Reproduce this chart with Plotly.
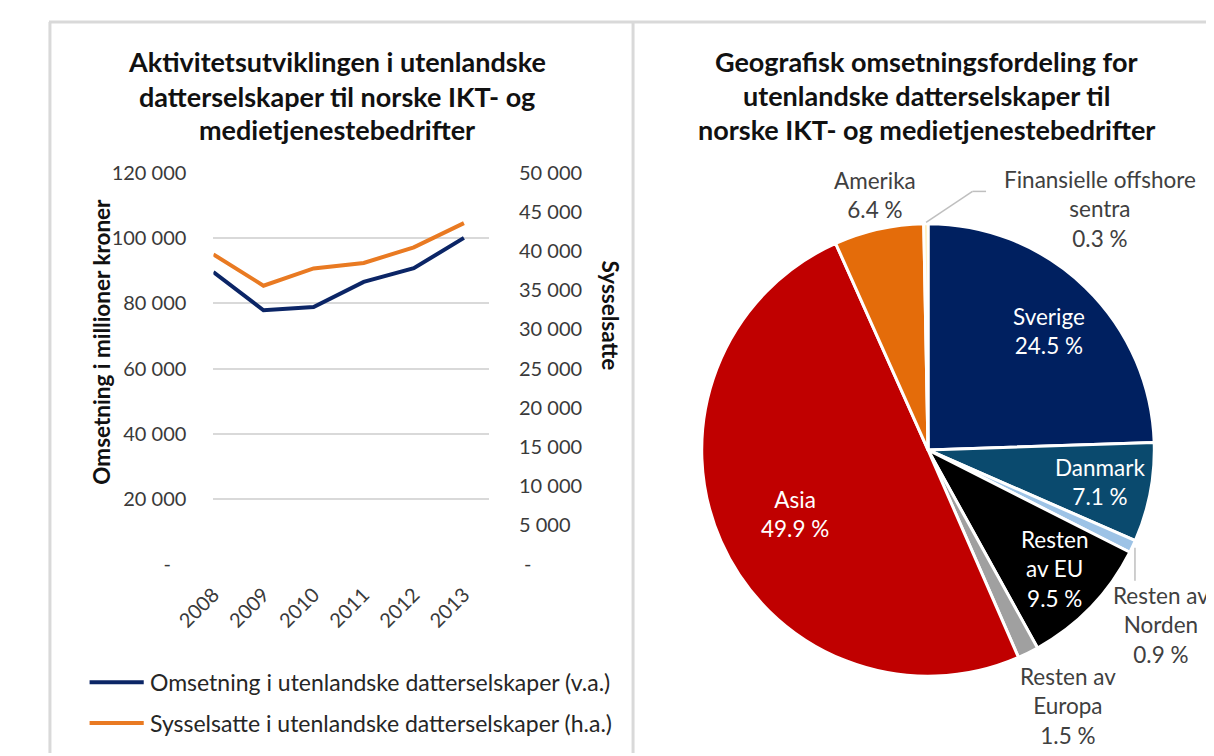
import plotly.graph_objects as go

W, H = 1214, 756
OFF = 8  # body margin of the html page

# ---------------- data ----------------
years = ["2008", "2009", "2010", "2011", "2012", "2013"]
omsetning = [89600, 77900, 78900, 86600, 90800, 100100]      # mill. kr (left axis)
sysselsatte = [39600, 35600, 37800, 38500, 40500, 43600]     # persons (right axis)

left_tickvals = [0, 20000, 40000, 60000, 80000, 100000, 120000]
left_ticktext = ["-\u00a0\u00a0\u00a0", "20 000", "40 000", "60 000", "80 000", "100 000", "120 000"]
right_tickvals = [0, 5000, 10000, 15000, 20000, 25000, 30000, 35000, 40000, 45000, 50000]
right_ticktext = ["\u00a0-", "5 000", "10 000", "15 000", "20 000", "25 000", "30 000",
                  "35 000", "40 000", "45 000", "50 000"]

regions = ["Sverige", "Danmark", "Resten av Norden", "Resten av EU", "Resten av Europa",
           "Asia", "Amerika", "Finansielle offshore sentra"]
label_text = ["Sverige", "Danmark", "Resten av<br>Norden", "Resten<br>av EU", "Resten av<br>Europa",
              "Asia", "Amerika", "Finansielle offshore<br>sentra"]
shares = [24.5, 7.1, 0.9, 9.5, 1.5, 49.9, 6.4, 0.3]

series_names = ["Omsetning i utenlandske datterselskaper (v.a.)",
                "Sysselsatte i utenlandske datterselskaper (h.a.)"]

# ---------------- styles ----------------
FONT = "Lato"
NAVY = "#0B2566"
ORANGE = "#E97A22"
slice_colors = ["#002060", "#0A4A6E", "#9DC3E6", "#000000", "#A0A0A0",
                "#C00000", "#E46C0A", "#FFE699"]
label_color = ["white", "white", "#404040", "white", "#404040", "white", "#404040", "#404040"]
label_pos = [(1043, 328), (1096, 484), (1159, 632), (1049, 574), (1063, 715),
             (780, 517), (863, 188), (1096, 202)]
PIE_CX, PIE_CY, PIE_R = 918, 451, 234


def px(x):
    return (x - OFF) / W


def py(y):
    return 1 - (y - OFF) / H


fig = go.Figure()

fig.add_trace(go.Scatter(x=years, y=omsetning, mode="lines", name=series_names[0],
                         line=dict(color=NAVY, width=4), xaxis="x", yaxis="y",
                         showlegend=False))
fig.add_trace(go.Scatter(x=years, y=sysselsatte, mode="lines", name=series_names[1],
                         line=dict(color=ORANGE, width=4), xaxis="x", yaxis="y2",
                         showlegend=False))

fig.add_trace(go.Pie(labels=regions, values=shares, sort=False, direction="clockwise",
                     rotation=0, textinfo="none", hoverinfo="label+percent",
                     marker=dict(colors=slice_colors, line=dict(color="white", width=3)),
                     domain=dict(x=[px(PIE_CX - PIE_R), px(PIE_CX + PIE_R)],
                                 y=[py(PIE_CY + PIE_R), py(PIE_CY - PIE_R)]),
                     showlegend=False))

tick_font = dict(family=FONT, size=20, color="#3A3A3A")

fig.update_layout(
    width=W, height=H,
    margin=dict(l=0, r=0, t=0, b=0),
    paper_bgcolor="white", plot_bgcolor="white",
    font=dict(family=FONT, color="#404040"),
    xaxis=dict(domain=[px(179), px(464)], type="category", range=[0, 5.5],
               tickangle=-45, tickfont=tick_font, showgrid=False, zeroline=False,
               showline=False, ticks="", ticklabelstandoff=14),
    yaxis=dict(domain=[py(569), py(165)], range=[0, 120000], tickvals=left_tickvals,
               ticktext=left_ticktext, tickfont=tick_font, showgrid=True,
               gridcolor="#D9D9D9", gridwidth=1.5, zeroline=False, showline=False,
               ticks="", ticklabelstandoff=26),
    yaxis2=dict(overlaying="y", side="right", anchor="x", range=[0, 50000],
                tickvals=right_tickvals, ticktext=right_ticktext, tickfont=tick_font,
                showgrid=False, zeroline=False, showline=False, ticks="",
                ticklabelstandoff=29),
)

annotations = []
shapes = []

left_title = ["Aktivitetsutviklingen i utenlandske", "datterselskaper til norske IKT- og",
              "medietjenestebedrifter"]
right_title = ["Geografisk omsetningsfordeling for", "utenlandske datterselskaper til",
               "norske IKT- og medietjenestebedrifter"]
title_font = dict(family=FONT, size=27, color="#111111")
for t, y in zip(left_title, [50, 86, 120]):
    annotations.append(dict(text="<b>%s</b>" % t, x=px(307), y=py(y), xref="paper", yref="paper",
                            showarrow=False, font=title_font, xanchor="center", yanchor="middle"))
for t, y in zip(right_title, [50, 85, 120]):
    annotations.append(dict(text="<b>%s</b>" % t, x=px(916), y=py(y), xref="paper", yref="paper",
                            showarrow=False, font=title_font, xanchor="center", yanchor="middle"))

axis_title_font = dict(family=FONT, size=22.5, color="#111111")
annotations.append(dict(text="<b>Omsetning i millioner kroner</b>", x=px(47), y=py(339),
                        xref="paper", yref="paper", showarrow=False, textangle=-90,
                        font=axis_title_font))
annotations.append(dict(text="<b>Sysselsatte</b>", x=px(590), y=py(312),
                        xref="paper", yref="paper", showarrow=False, textangle=90,
                        font=axis_title_font))

for name, col, y in zip(series_names, [NAVY, ORANGE], [691, 733]):
    shapes.append(dict(type="line", xref="paper", yref="paper", x0=px(51), x1=px(107),
                       y0=py(y), y1=py(y), line=dict(color=col, width=4)))
    annotations.append(dict(text=name, x=px(111), y=py(y), xref="paper", yref="paper",
                            showarrow=False, xanchor="left", yanchor="middle",
                            font=dict(family=FONT, size=23, color="#262626")))

for lab, s, col, (lx, ly) in zip(label_text, shares, label_color, label_pos):
    annotations.append(dict(text="%s<br>%.1f %%" % (lab, s), x=px(lx), y=py(ly),
                            xref="paper", yref="paper", showarrow=False,
                            xanchor="center", yanchor="middle", align="center",
                            font=dict(family=FONT, size=22.5, color=col)))

leader_lines = [[(916, 216), (964, 184), (978, 184)],
                [(1132, 552), (1132, 586)]]
for pts in leader_lines:
    for (x0, y0), (x1, y1) in zip(pts[:-1], pts[1:]):
        shapes.append(dict(type="line", xref="paper", yref="paper", x0=px(x0), y0=py(y0),
                           x1=px(x1), y1=py(y1), line=dict(color="#BFBFBF", width=1.5)))

border = dict(color="#D9D9D9", width=3)
shapes.append(dict(type="line", xref="paper", yref="paper", x0=px(9), x1=1, y0=py(9), y1=py(9), line=border))
shapes.append(dict(type="line", xref="paper", yref="paper", x0=px(10), x1=px(10), y0=py(9), y1=0, line=border))
shapes.append(dict(type="line", xref="paper", yref="paper", x0=px(613), x1=px(613), y0=py(9), y1=0, line=border))

fig.update_layout(annotations=annotations, shapes=shapes)

fig.write_html("out.html")
